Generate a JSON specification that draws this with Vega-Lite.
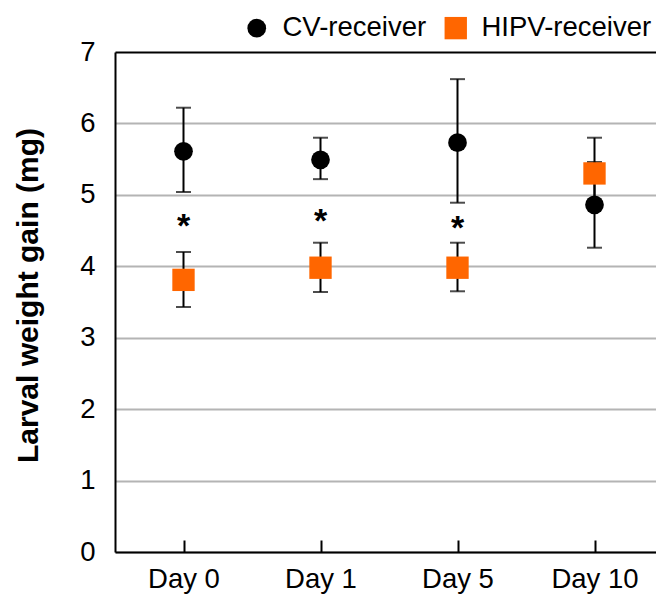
{
  "$schema": "https://vega.github.io/schema/vega-lite/v6.json",
  "width": 548,
  "height": 500,
  "autosize": {"type": "none"},
  "padding": {"left": 115, "top": 52, "right": -7, "bottom": 50},
  "config": {
    "font": "Liberation Sans",
    "view": {"stroke": null},
    "axisX": {
      "domainColor": "black", "domainWidth": 2,
      "tickColor": "black", "tickWidth": 2, "tickSize": -12,
      "labelFontSize": 27.5, "labelColor": "black", "labelPadding": 25, "labelAngle": 0,
      "grid": false, "title": null
    },
    "axisY": {
      "domainColor": "black", "domainWidth": 2,
      "ticks": false, "tickSize": 0,
      "labelFontSize": 27.5, "labelColor": "black", "labelPadding": 20,
      "gridWidth": 2,
      "titleFontSize": 30, "titleFontWeight": "bold", "titleColor": "black",
      "titleX": -87, "titleY": 243, "titleBaseline": "middle"
    }
  },
  "datasets": {
    "pts": [
      {"day": "Day 0", "group": "CV-receiver", "mean": 5.61, "lo": 5.04, "hi": 6.22},
      {"day": "Day 0", "group": "HIPV-receiver", "mean": 3.81, "lo": 3.43, "hi": 4.20},
      {"day": "Day 1", "group": "CV-receiver", "mean": 5.49, "lo": 5.22, "hi": 5.80},
      {"day": "Day 1", "group": "HIPV-receiver", "mean": 3.98, "lo": 3.64, "hi": 4.33},
      {"day": "Day 5", "group": "CV-receiver", "mean": 5.73, "lo": 4.89, "hi": 6.62},
      {"day": "Day 5", "group": "HIPV-receiver", "mean": 3.98, "lo": 3.65, "hi": 4.33},
      {"day": "Day 10", "group": "CV-receiver", "mean": 4.86, "lo": 4.26, "hi": 5.46},
      {"day": "Day 10", "group": "HIPV-receiver", "mean": 5.30, "lo": 4.80, "hi": 5.80}
    ],
    "sig": [
      {"day": "Day 0", "y": 4.62, "label": "*"},
      {"day": "Day 1", "y": 4.69, "label": "*"},
      {"day": "Day 5", "y": 4.59, "label": "*"}
    ]
  },
  "encoding": {
    "x": {
      "field": "day", "type": "nominal",
      "sort": ["Day 0", "Day 1", "Day 5", "Day 10"],
      "scale": {"type": "point", "padding": 0.5}
    }
  },
  "layer": [
    {
      "data": {"name": "pts"},
      "mark": {"type": "rule", "color": "black", "strokeWidth": 2},
      "encoding": {
        "y": {"field": "lo", "type": "quantitative", "title": "Larval weight gain (mg)",
              "scale": {"domain": [0, 7]},
              "axis": {"values": [0, 1, 2, 3, 4, 5, 6, 7], "format": "d",
                       "gridColor": {"condition": {"test": "datum.value === 7", "value": "black"}, "value": "#b4b4b4"}}},
        "y2": {"field": "hi"}
      }
    },
    {
      "data": {"name": "pts"},
      "mark": {"type": "tick", "color": "black", "size": 15, "thickness": 2},
      "encoding": {"y": {"field": "lo", "type": "quantitative", "title": "Larval weight gain (mg)"}}
    },
    {
      "data": {"name": "pts"},
      "mark": {"type": "tick", "color": "black", "size": 15, "thickness": 2},
      "encoding": {"y": {"field": "hi", "type": "quantitative", "title": "Larval weight gain (mg)"}}
    },
    {
      "data": {"name": "pts"},
      "mark": {"type": "point", "filled": true, "opacity": 1},
      "encoding": {
        "y": {"field": "mean", "type": "quantitative", "title": "Larval weight gain (mg)"},
        "color": {"field": "group", "type": "nominal",
                  "scale": {"domain": ["CV-receiver", "HIPV-receiver"], "range": ["#000000", "#ff6600"]},
                  "legend": {"title": null, "orient": "none", "direction": "horizontal",
                             "legendX": 128, "legendY": -38,
                             "labelFontSize": 27.5, "labelColor": "black", "labelLimit": 400, "symbolSize": 420,
                             "symbolStrokeWidth": 0, "labelOffset": 12, "columnPadding": 15, "symbolOpacity": 1}},
        "shape": {"field": "group", "type": "nominal",
                  "scale": {"domain": ["CV-receiver", "HIPV-receiver"], "range": ["circle", "square"]}},
        "size": {"field": "group", "type": "nominal",
                 "scale": {"domain": ["CV-receiver", "HIPV-receiver"], "range": [350, 500]},
                 "legend": null}
      }
    },
    {
      "data": {"name": "sig"},
      "mark": {"type": "text", "fontSize": 34, "fontWeight": "bold", "color": "black", "baseline": "alphabetic", "dy": 15},
      "encoding": {
        "y": {"field": "y", "type": "quantitative", "title": "Larval weight gain (mg)"},
        "text": {"field": "label"}
      }
    }
  ]
}
